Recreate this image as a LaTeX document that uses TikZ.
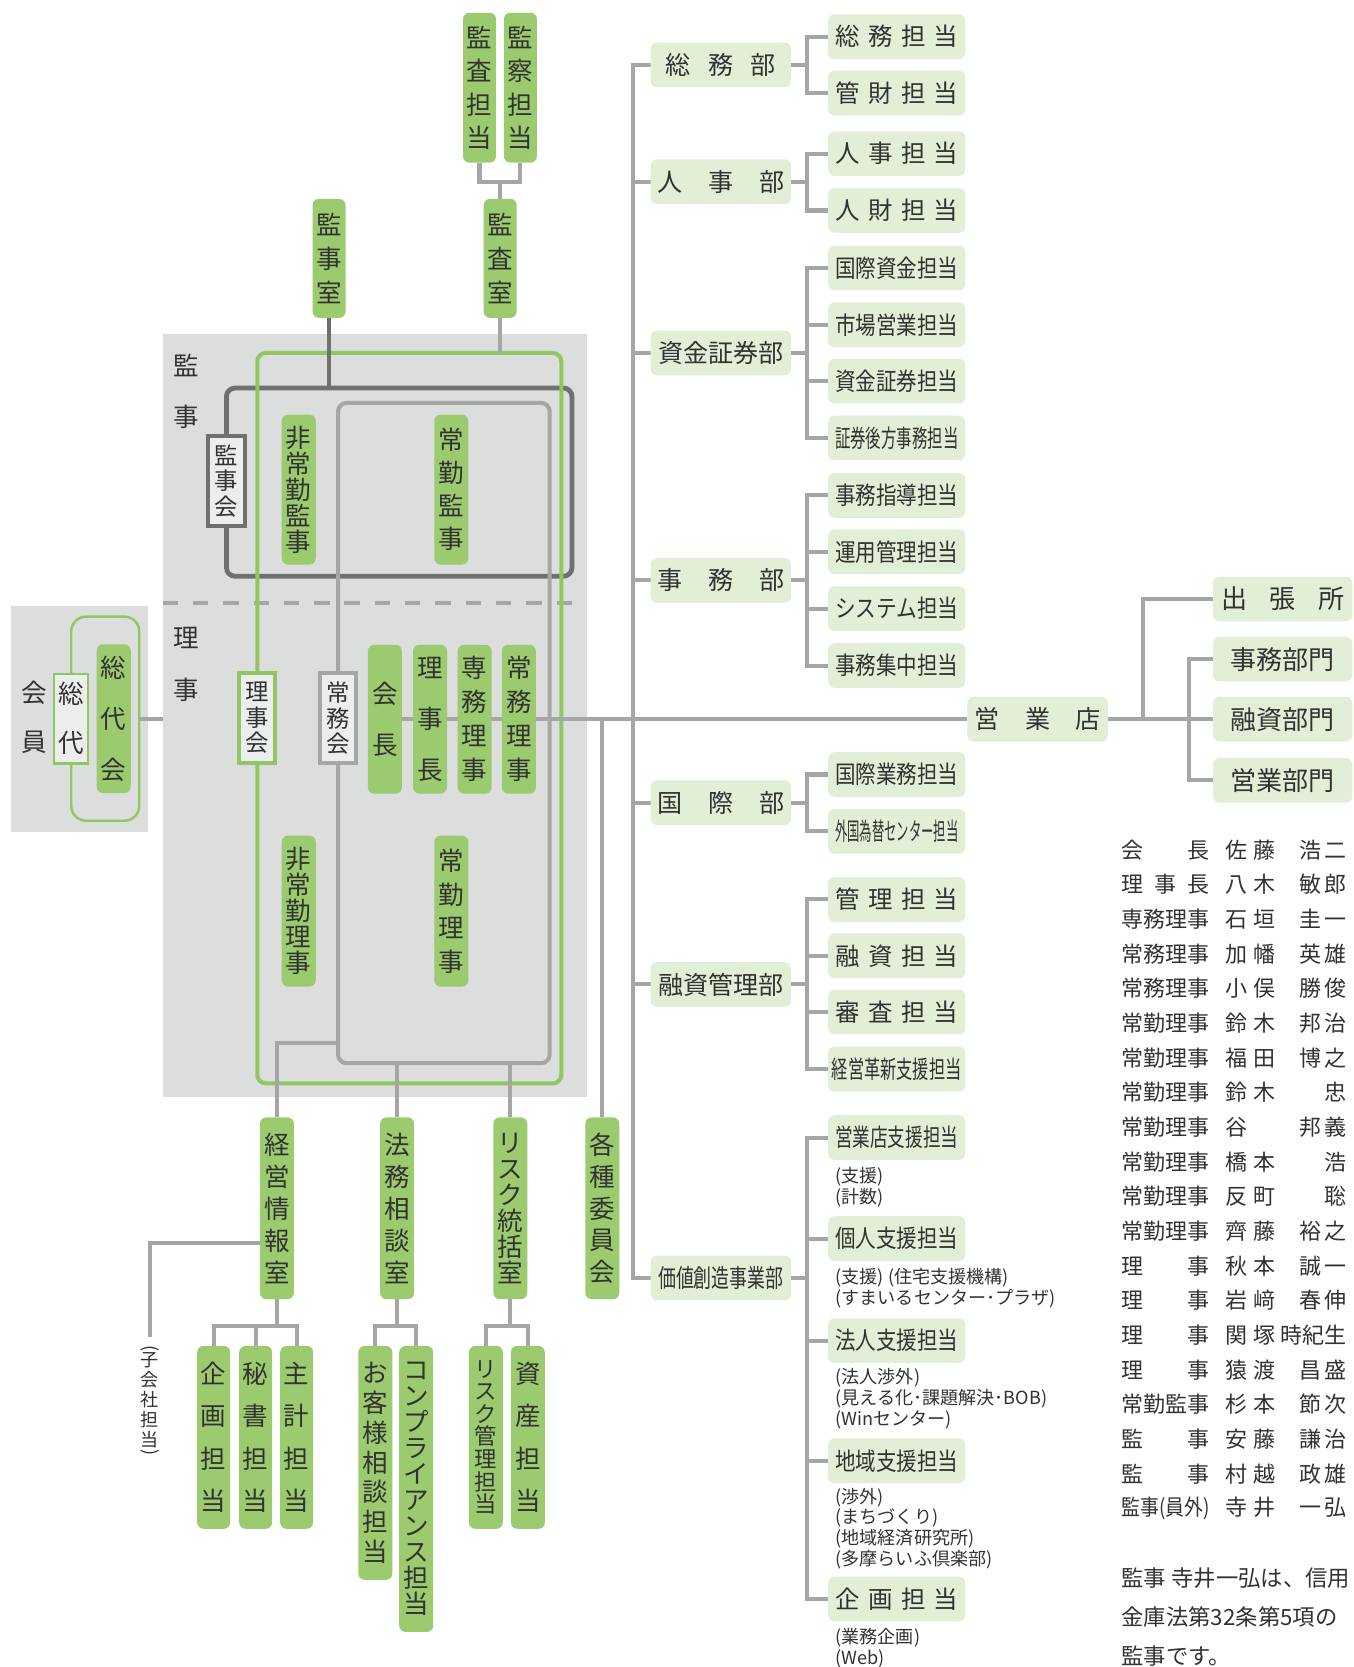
\documentclass[tikz,border=0pt]{standalone}
\usepackage{fontspec}
\setmainfont{Noto Sans CJK JP}
\usepackage{graphicx}
\definecolor{gfill}{RGB}{155,203,110}
\definecolor{lfill}{RGB}{226,239,214}
\definecolor{regn}{RGB}{220,221,221}
\definecolor{lin}{RGB}{166,166,166}
\definecolor{dk}{RGB}{112,112,112}
\definecolor{txt}{RGB}{50,50,50}
\definecolor{pale}{RGB}{236,237,237}
\definecolor{gline}{RGB}{146,198,100}
\newcommand\fs[2]{\fontsize{#1pt}{#2pt}\selectfont}
\newcommand\spr[2]{\makebox[#1pt][s]{#2}}
\newcommand\fitw[2]{\resizebox{#1pt}{\height}{#2}}
\newcommand\nrow[3]{\makebox[83pt][s]{#1}\hspace{14.5pt}\makebox[47.5pt][s]{#2}\makebox[67pt][r]{#3}}
\newcommand\gv[2]{\makebox[45pt][s]{#1\hfill #2}}
\pgfdeclarelayer{back}
\pgfdeclarelayer{mid}
\pgfsetlayers{back,mid,main}
\begin{document}
\begin{tikzpicture}[x=1pt,y=-1pt,
  every node/.style={inner sep=0pt, outer sep=0pt, text=txt},
  wh/.style 2 args={minimum width=#1pt, minimum height=#2pt},
  gb/.style={fill=gfill, rounded corners=6pt, align=center},
  lb/.style={fill=lfill, rounded corners=6pt},
  conn/.style={draw=lin, line width=3.8pt},
  dconn/.style={draw=dk, line width=3.8pt},
  pb/.style={fill=pale, line width=3.8pt, align=center, font=\fs{22}{24}},
  subb/.style={lb, wh={129}{42}, font=\fs{23}{24}},
  deptb/.style={lb, wh={132}{42}, font=\fs{23.6}{24}},
  brb/.style={lb, wh={131}{42}, font=\fs{24.5}{24}},
  note/.style={anchor=west, align=left, font=\fs{17}{19.5}},
  nm/.style={anchor=west, font=\fs{20.7}{22}}
]
\useasboundingbox (0,0) rectangle (1273,1568);
\begin{pgfonlayer}{back}
\fill[white] (0,0) rectangle (1273,1568);
\node[fill=regn, wh={399}{718}] (grayR) at (352.5,673) {};
\node[fill=regn, wh={129}{213}] (leftR) at (74.5,676.5) {};
\coordinate (dA) at (153,567);
\coordinate (dB) at (540,567);
\draw[lin, line width=3.8pt, dash pattern=on 14.5pt off 14pt] (dA) -- (dB);
\node[draw=dk, line width=4.5pt, rounded corners=8pt, wh={325}{177}] (darkR) at (375.5,453.5) {};
\node[draw=lin, line width=3.8pt, rounded corners=8pt, wh={199}{621}] (innerR) at (417.5,689.5) {};
\node[draw=gline, line width=3.8pt, rounded corners=8pt, wh={286}{687}] (greenR) at (385,675.5) {};
\node[draw=gline, line width=2.3pt, rounded corners=14pt, wh={64}{192}] (sodaiG) at (99,676) {};
\end{pgfonlayer}

% side labels
\node[font=\fs{24}{24}] (lbKan) at (175,344) {監};
\node[font=\fs{24}{24}] (lbKanJi) at (175,392) {事};
\node[font=\fs{24}{24}] (lbRi) at (175,600) {理};
\node[font=\fs{24}{24}] (lbRiJi) at (175,649) {事};
\node[font=\fs{24}{24}] (lbKai) at (32,652) {会};
\node[font=\fs{24}{24}] (lbIn) at (32,698) {員};

% top
\node[gb, wh={31}{141}, font=\fs{24}{31.5}] (kansaT) at (451,82.5) {監\\査\\担\\当};
\node[gb, wh={31}{141}, font=\fs{24}{31.5}] (kansatsuT) at (489.5,82.5) {監\\察\\担\\当};
\node[gb, wh={31}{112}, font=\fs{24}{32}] (kansaS) at (470.5,243) {監\\査\\室};
\node[gb, wh={31}{112}, font=\fs{24}{32}] (kanjiS) at (309.5,243) {監\\事\\室};

% inside
\node[pb, draw=dk, wh={34}{85}] (kanjikai) at (213,452.5) {監\\事\\会};
\node[gb, wh={32}{141}, font=\fs{24}{24.5}] (hijoKanji) at (281,460.5) {非\\常\\勤\\監\\事};
\node[gb, wh={32}{141}, font=\fs{24}{31}] (jokinKanji) at (424.5,460.5) {常\\勤\\監\\事};
\node[pb, draw=gline, wh={34}{85}] (rijikai) at (242,675.5) {理\\事\\会};
\node[pb, draw=lin, wh={34}{85}] (jomukai) at (318,675.5) {常\\務\\会};
\node[gb, wh={32}{140}, font=\fs{24}{48}] (kaicho) at (362,676.5) {会\\長};
\node[gb, wh={32}{140}, font=\fs{24}{48}] (rijicho) at (404.5,676.5) {理\\事\\長};
\node[gb, wh={32}{140}, font=\fs{24}{32}] (senmu) at (446.5,676.5) {専\\務\\理\\事};
\node[gb, wh={32}{140}, font=\fs{24}{32}] (jomu) at (488,676.5) {常\\務\\理\\事};
\node[gb, wh={32}{142}, font=\fs{24}{24.5}] (hijoRiji) at (281,857) {非\\常\\勤\\理\\事};
\node[gb, wh={32}{142}, font=\fs{24}{31.5}] (jokinRiji) at (424.5,857) {常\\勤\\理\\事};
\node[fill=pale, draw=gline, line width=2.3pt, align=center, font=\fs{24}{46}, wh={32}{84}] (sodai) at (67,676) {総\\代};
\node[gb, wh={32}{140}, font=\fs{24}{48}] (sodaikai) at (107,676) {総\\代\\会};

% bottom
\node[gb, wh={32}{171}, font=\fs{24}{30}] (keiei) at (260.5,1136.5) {経\\営\\情\\報\\室};
\node[gb, wh={32}{171}, font=\fs{24}{30}] (homu) at (373.5,1136.5) {法\\務\\相\\談\\室};
\node[gb, wh={32}{171}, font=\fs{24}{24.5}] (risk) at (480,1136.5) {リ\\ス\\ク\\統\\括\\室};
\node[gb, wh={32}{171}, font=\fs{24}{30}] (kakushu) at (566.5,1136.5) {各\\種\\委\\員\\会};
\node[gb, wh={31}{172}, font=\fs{24}{40}] (kikaku) at (201,1352) {企\\画\\担\\当};
\node[gb, wh={31}{172}, font=\fs{24}{40}] (hisho) at (240.5,1352) {秘\\書\\担\\当};
\node[gb, wh={31}{172}, font=\fs{24}{40}] (shukei) at (279,1352) {主\\計\\担\\当};
\node[gb, wh={32}{220}, font=\fs{24}{28}] (okyaku) at (353,1376) {お\\客\\様\\相\\談\\担\\当};
\node[gb, wh={32}{269}, font=\fs{24}{24.4}] (compl) at (391.5,1400.5) {コ\\ン\\プ\\ラ\\イ\\ア\\ン\\ス\\担\\当};
\node[gb, wh={32}{172}, font=\fs{21}{21.3}] (riskK) at (457,1352) {リ\\ス\\ク\\管\\理\\担\\当};
\node[gb, wh={32}{172}, font=\fs{24}{40}] (shisan) at (496.5,1352) {資\\産\\担\\当};
\node[font=\fs{17}{19}, align=center] (kgTxt) at (141,1317) {子\\会\\社\\担\\当};
\node[font=\fs{17}{19}] (kgPL) at (141,1268) {\rotatebox{-90}{(}};
\node[font=\fs{17}{19}] (kgPR) at (141,1366) {\rotatebox{-90}{)}};

% departments
\node[deptb] (somu) at (678,61) {\spr{104}{総\hfill 務\hfill 部}};
\node[deptb] (jinji) at (678,171) {\spr{120}{人\hfill 事\hfill 部}};
\node[deptb] (shikin) at (678,332) {資金証券部};
\node[deptb] (jimu) at (678,546) {\spr{120}{事\hfill 務\hfill 部}};
\node[deptb] (kokusai) at (678,755) {\spr{120}{国\hfill 際\hfill 部}};
\node[deptb] (yushi) at (678,926) {融資管理部};
\node[deptb] (kachi) at (678,1202) {\fitw{118}{価値創造事業部}};

\node[subb] (s1) at (843.5,34.5) {\spr{116}{総\hfill 務\hfill 担\hfill 当}};
\node[subb] (s2) at (843.5,87.5) {\spr{116}{管\hfill 財\hfill 担\hfill 当}};
\node[subb] (j1) at (843.5,144.5) {\spr{116}{人\hfill 事\hfill 担\hfill 当}};
\node[subb] (j2) at (843.5,198) {\spr{116}{人\hfill 財\hfill 担\hfill 当}};
\node[subb] (k1) at (843.5,252) {\fitw{116}{国際資金担当}};
\node[subb] (k2) at (843.5,305.5) {\fitw{116}{市場営業担当}};
\node[subb] (k3) at (843.5,358.5) {\fitw{116}{資金証券担当}};
\node[subb] (k4) at (843.5,412) {\fitw{116}{証券後方事務担当}};
\node[subb] (m1) at (843.5,466) {\fitw{116}{事務指導担当}};
\node[subb] (m2) at (843.5,519) {\fitw{116}{運用管理担当}};
\node[subb] (m3) at (843.5,572.5) {\fitw{116}{システム担当}};
\node[subb] (m4) at (843.5,626) {\fitw{116}{事務集中担当}};
\node[subb] (i1) at (843.5,728.5) {\fitw{116}{国際業務担当}};
\node[subb] (i2) at (843.5,782) {\fitw{116}{外国為替センター担当}};
\node[subb] (y1) at (843.5,846) {\spr{116}{管\hfill 理\hfill 担\hfill 当}};
\node[subb] (y2) at (843.5,899) {\spr{116}{融\hfill 資\hfill 担\hfill 当}};
\node[subb] (y3) at (843.5,952) {\spr{116}{審\hfill 査\hfill 担\hfill 当}};
\node[subb] (y4) at (843.5,1005.5) {\fitw{122}{経営革新支援担当}};
\node[subb] (v1) at (843.5,1070) {\fitw{116}{営業店支援担当}};
\node[subb] (v2) at (843.5,1165) {\fitw{116}{個人支援担当}};
\node[subb] (v3) at (843.5,1261) {\fitw{116}{法人支援担当}};
\node[subb] (v4) at (843.5,1374) {\fitw{116}{地域支援担当}};
\node[subb] (v5) at (843.5,1504) {\spr{116}{企\hfill 画\hfill 担\hfill 当}};

\node[note] (n1) at (786,1116.5) {(支援)\\(計数)};
\node[note] (n2) at (786,1211.5) {(支援) (住宅支援機構)\\(すまいるセンター･プラザ)};
\node[note] (n3) at (786,1315.5) {(法人渉外)\\(見える化･課題解決･BOB)\\(Winセンター)};
\node[note] (n4) at (786,1437.5) {(渉外)\\(まちづくり)\\(地域経済研究所)\\(多摩らいふ倶楽部)};
\node[note] (n5) at (786,1550) {(業務企画)\\(Web)};

% branch
\node[deptb] (eigyo) at (976,676.5) {\spr{118}{営\hfill 業\hfill 店}};
\node[brb] (shutcho) at (1206.5,563.5) {\spr{116}{出\hfill 張\hfill 所}};
\node[brb] (bJimu) at (1206.5,620) {事務部門};
\node[brb] (bYushi) at (1206.5,676.5) {融資部門};
\node[brb] (bEigyo) at (1206.5,734) {営業部門};

% names
\node[nm] (r1) at (1055,799.5) {\nrow{会\hfill 長}{佐\hfill 藤}{\gv{浩}{二}}};
\node[nm] (r2) at (1055,832.1) {\nrow{理\hfill 事\hfill 長}{八\hfill 木}{\gv{敏}{郎}}};
\node[nm] (r3) at (1055,864.7) {\nrow{専\hfill 務\hfill 理\hfill 事}{石\hfill 垣}{\gv{圭}{一}}};
\node[nm] (r4) at (1055,897.3) {\nrow{常\hfill 務\hfill 理\hfill 事}{加\hfill 幡}{\gv{英}{雄}}};
\node[nm] (r5) at (1055,929.9) {\nrow{常\hfill 務\hfill 理\hfill 事}{小\hfill 俣}{\gv{勝}{俊}}};
\node[nm] (r6) at (1055,962.5) {\nrow{常\hfill 勤\hfill 理\hfill 事}{鈴\hfill 木}{\gv{邦}{治}}};
\node[nm] (r7) at (1055,995.1) {\nrow{常\hfill 勤\hfill 理\hfill 事}{福\hfill 田}{\gv{博}{之}}};
\node[nm] (r8) at (1055,1027.7) {\nrow{常\hfill 勤\hfill 理\hfill 事}{鈴\hfill 木}{忠}};
\node[nm] (r9) at (1055,1060.3) {\nrow{常\hfill 勤\hfill 理\hfill 事}{谷\hfill}{\gv{邦}{義}}};
\node[nm] (r10) at (1055,1092.9) {\nrow{常\hfill 勤\hfill 理\hfill 事}{橋\hfill 本}{浩}};
\node[nm] (r11) at (1055,1125.5) {\nrow{常\hfill 勤\hfill 理\hfill 事}{反\hfill 町}{聡}};
\node[nm] (r12) at (1055,1158.1) {\nrow{常\hfill 勤\hfill 理\hfill 事}{齊\hfill 藤}{\gv{裕}{之}}};
\node[nm] (r13) at (1055,1190.7) {\nrow{理\hfill 事}{秋\hfill 本}{\gv{誠}{一}}};
\node[nm] (r14) at (1055,1223.3) {\nrow{理\hfill 事}{岩\hfill 﨑}{\gv{春}{伸}}};
\node[nm] (r15) at (1055,1255.9) {\nrow{理\hfill 事}{関\hfill 塚}{時紀生}};
\node[nm] (r16) at (1055,1288.5) {\nrow{理\hfill 事}{猿\hfill 渡}{\gv{昌}{盛}}};
\node[nm] (r17) at (1055,1321.1) {\nrow{常\hfill 勤\hfill 監\hfill 事}{杉\hfill 本}{\gv{節}{次}}};
\node[nm] (r18) at (1055,1353.7) {\nrow{監\hfill 事}{安\hfill 藤}{\gv{謙}{治}}};
\node[nm] (r19) at (1055,1386.3) {\nrow{監\hfill 事}{村\hfill 越}{\gv{政}{雄}}};
\node[nm] (r20) at (1055,1418.9) {\nrow{\fitw{83}{監事(員外)}\hfill}{寺\hfill 井}{\gv{一}{弘}}};
\node[anchor=west, align=left, font=\fs{21}{36.5}] (noteR) at (1055,1521) {監事\hspace{5pt}寺井一弘は、信用\\金庫法第32条第5項の\\監事です。};

% connectors
\begin{pgfonlayer}{mid}
\draw[conn] (kansaT.south) -- ++(0,18) -| (kansatsuT.south);
\draw[conn] (kansaS.north) -- ++(0,-16);
\draw[conn] (kansaS.south) -- (kansaS.south |- greenR.north);
\draw[dconn] (kanjiS.south) -- (kanjiS.south |- darkR.north);
\draw[conn] (sodaiG.east) -- (grayR.west |- sodaiG.east);
\draw[conn] (kaicho.east) -- (eigyo.west);
\coordinate (lcorner) at (318,981);
\draw[conn] (lcorner) -| (keiei.north);
\draw[conn] (homu.north) -- (homu.north |- innerR.south);
\draw[conn] (risk.north) -- (risk.north |- innerR.south);
\draw[conn] (kakushu.north) -- (kakushu.north |- kaicho.east);
\coordinate (kgEnd) at (141,1258);
\coordinate (kgTop) at (141,1169);
\draw[conn] (kgEnd) -- (kgTop) -- (kgTop -| keiei.west);
\draw[conn] (keiei.south) -- ++(0,25) coordinate (kb);
\draw[conn] (kikaku.north) |- (kb) -| (shukei.north);
\draw[conn] (hisho.north) -- (hisho.north |- kb);
\draw[conn] (homu.south) -- ++(0,25) coordinate (hb);
\draw[conn] (okyaku.north) |- (hb) -| (compl.north);
\draw[conn] (risk.south) -- ++(0,25) coordinate (rb);
\draw[conn] (riskK.north) |- (rb) -| (shisan.north);
% right trunk
\draw[conn] (somu.west) -- ++(-17,0) |- (kachi.west);
\foreach \d in {jinji,shikin,jimu,kokusai,yushi} {\draw[conn] (\d.west) -- ++(-17,0);}
\foreach \d in {somu,jinji,shikin,jimu,kokusai,yushi,kachi} {\draw[conn] (\d.east) -- ++(15,0);}
\draw[conn] (s1.west) -- ++(-20,0) |- (s2.west);
\draw[conn] (j1.west) -- ++(-20,0) |- (j2.west);
\draw[conn] (k1.west) -- ++(-20,0) |- (k4.west);
\foreach \c in {k2,k3,m2,m3,y2,y3,v2,v3,v4} {\draw[conn] (\c.west) -- ++(-20,0);}
\draw[conn] (m1.west) -- ++(-20,0) |- (m4.west);
\draw[conn] (i1.west) -- ++(-20,0) |- (i2.west);
\draw[conn] (y1.west) -- ++(-20,0) |- (y4.west);
\draw[conn] (v1.west) -- ++(-20,0) |- (v5.west);
% branch
\draw[conn] (eigyo.east) -- (bYushi.west);
\draw[conn] (eigyo.east) -- ++(33,0) |- (shutcho.west);
\draw[conn] (bJimu.west) -- ++(-23,0) |- (bEigyo.west);
\end{pgfonlayer}
\end{tikzpicture}
\end{document}
